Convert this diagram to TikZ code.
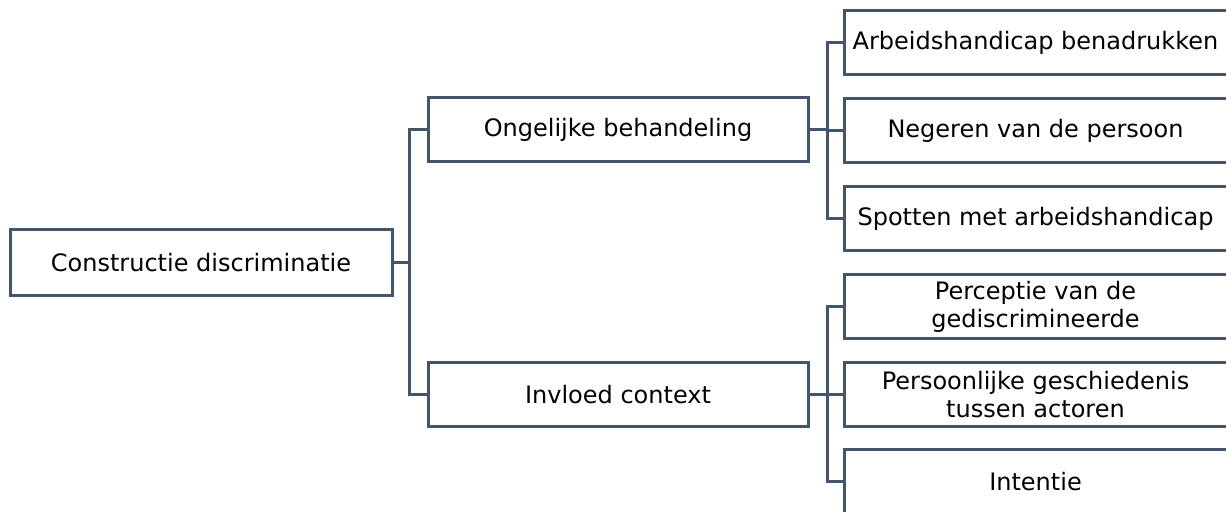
\documentclass[tikz,border=0pt]{standalone}
\usepackage{fontspec}
\setmainfont{DejaVu Sans}
\usepackage{xcolor}
\definecolor{slate}{HTML}{44546A}
\tikzset{
  box/.style={draw=slate, line width=1.5pt, fill=white, align=center,
    inner sep=0pt, outer sep=0pt, minimum height=32pt,
    font=\fontsize{12}{14}\selectfont},
  link/.style={draw=slate, line width=1.5pt}
}
\begin{document}
\begin{tikzpicture}[x=0.5pt, y=-0.5pt]
\clip (0,0) rectangle (1226,512);
\node[box, minimum width=191pt, minimum height=33pt] (root) at (201,263) {Constructie discriminatie};
\node[box, minimum width=190pt] (ong) at (618,130) {Ongelijke behandeling};
\node[box, minimum width=190pt] (inv) at (618,395) {Invloed context};
\foreach \yy/\txt [count=\i from 0] in {
    43/{Arbeidshandicap benadrukken},
    130.5/{Negeren van de persoon},
    219/{Spotten met arbeidshandicap},
    306.5/{Perceptie van de\\gediscrimineerde},
    395/{Persoonlijke geschiedenis\\tussen actoren},
    482/{Intentie}} {
    \node[box, minimum width=191.5pt] (leaf\i) at (1035.5,\yy) {\txt};
}
% tree connectors
\draw[link] (root.east) -- ++(17,0) coordinate (rj) |- (ong.west);
\draw[link] (rj) |- (inv.west);
\foreach \i in {0,1,2} {
    \draw[link] (ong.east) -- ++(19,0) |- (leaf\i.west);
}
\foreach \i in {3,4,5} {
    \draw[link] (inv.east) -- ++(19,0) |- (leaf\i.west);
}
\end{tikzpicture}
\end{document}
